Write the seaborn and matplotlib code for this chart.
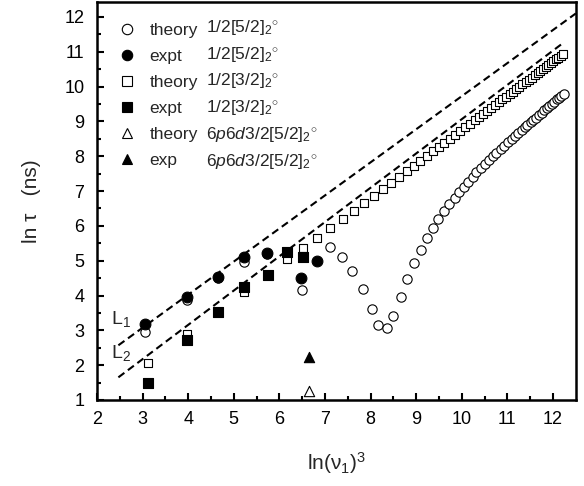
import matplotlib
matplotlib.use("Agg")
import matplotlib.pyplot as plt
import seaborn as sns
import pandas as pd

# theory 1/2[5/2]_2 (open circles)
th52_x = [3.05, 3.97, 4.66, 5.23, 5.72, 6.49, 7.11, 7.37, 7.60, 7.83, 8.02, 8.17, 8.35, 8.50,
          8.66, 8.80, 8.95, 9.10, 9.23, 9.36, 9.48, 9.61, 9.73, 9.84, 9.94, 10.04, 10.14, 10.24,
          10.32, 10.42, 10.51, 10.59, 10.68, 10.76, 10.85, 10.93, 11.01, 11.09, 11.17, 11.24,
          11.31, 11.38, 11.44, 11.51, 11.57, 11.63, 11.69, 11.75, 11.81, 11.87, 11.92, 11.98,
          12.03, 12.08, 12.13, 12.18, 12.23]
th52_y = [2.95, 3.88, 4.50, 4.97, 5.18, 4.17, 5.40, 5.11, 4.69, 4.18, 3.62, 3.14, 3.07, 3.42,
          3.95, 4.48, 4.94, 5.31, 5.66, 5.94, 6.20, 6.42, 6.62, 6.81, 6.97, 7.12, 7.27, 7.41,
          7.54, 7.67, 7.78, 7.90, 8.00, 8.10, 8.21, 8.30, 8.40, 8.49, 8.59, 8.67,
          8.75, 8.83, 8.90, 8.98, 9.05, 9.11, 9.18, 9.25, 9.32, 9.39, 9.45, 9.51,
          9.57, 9.63, 9.68, 9.74, 9.80]

# expt 1/2[5/2]_2 (filled circles)
ex52_x = [3.05, 3.97, 4.66, 5.23, 5.72, 6.48, 6.82]
ex52_y = [3.19, 3.95, 4.52, 5.10, 5.21, 4.50, 4.98]

# theory 1/2[3/2]_2 (open squares)
th32_x = [3.13, 3.98, 4.66, 5.23, 5.74, 6.16, 6.51, 6.83, 7.12, 7.39, 7.63, 7.86, 8.07, 8.27,
          8.45, 8.63, 8.79, 8.95, 9.09, 9.24, 9.37, 9.50, 9.62, 9.74, 9.86, 9.97, 10.07, 10.18,
          10.28, 10.37, 10.46, 10.56, 10.64, 10.73, 10.81, 10.89, 10.97, 11.05, 11.12, 11.19,
          11.26, 11.33, 11.40, 11.47, 11.53, 11.60, 11.66, 11.72, 11.78, 11.84, 11.90, 11.95,
          12.01, 12.06, 12.11, 12.17, 12.22]
th32_y = [2.07, 2.90, 3.52, 4.11, 4.58, 5.04, 5.36, 5.65, 5.93, 6.20, 6.43, 6.66, 6.87, 7.06,
          7.24, 7.41, 7.57, 7.73, 7.86, 8.01, 8.14, 8.27, 8.38, 8.50, 8.62, 8.73, 8.83, 8.93,
          9.03, 9.12, 9.21, 9.31, 9.38, 9.47, 9.55, 9.63, 9.71, 9.79, 9.85, 9.92,
          9.99, 10.06, 10.13, 10.20, 10.26, 10.32, 10.38, 10.44, 10.50, 10.56, 10.62, 10.67,
          10.73, 10.78, 10.82, 10.88, 10.93]

# expt 1/2[3/2]_2 (filled squares)
ex32_x = [3.13, 3.98, 4.66, 5.23, 5.74, 6.16, 6.51]
ex32_y = [1.48, 2.73, 3.54, 4.24, 4.59, 5.24, 5.12]

# 6p6d3/2[5/2]_2 (triangles)
th_tri_x = [6.65]
th_tri_y = [1.25]
ex_tri_x = [6.65]
ex_tri_y = [2.24]

# dashed guide lines L1, L2 (end points)
L1_x = [2.47, 12.5]
L1_y = [2.57, 12.10]
L2_x = [2.47, 12.25]
L2_y = [1.65, 11.28]

legend_kinds = ["theory", "expt", "theory", "expt", "theory", "exp"]
legend_states = [r"1/2[5/2]$_2$$^{\circ}$", r"1/2[5/2]$_2$$^{\circ}$",
                 r"1/2[3/2]$_2$$^{\circ}$", r"1/2[3/2]$_2$$^{\circ}$",
                 r"6$p$6$d$3/2[5/2]$_2$$^{\circ}$", r"6$p$6$d$3/2[5/2]$_2$$^{\circ}$"]

sns.set_theme(style="ticks")
plt.rcParams['font.family'] = ['Liberation Sans', 'DejaVu Sans']
plt.rcParams['mathtext.fontset'] = 'custom'
plt.rcParams['mathtext.rm'] = 'Liberation Sans'
plt.rcParams['mathtext.it'] = 'Liberation Sans:italic'
plt.rcParams['mathtext.bf'] = 'Liberation Sans:bold'

fig = plt.figure(figsize=(5.84, 4.86), dpi=100)
ax = fig.add_axes([0.166, 0.177, 0.820, 0.819])

for lx, ly in [(L1_x, L1_y), (L2_x, L2_y)]:
    sns.lineplot(x=lx, y=ly, ax=ax, color="black", lw=1.5, zorder=1)
    ax.lines[-1].set_dashes([3.6, 2.1])

series = [
    (th52_x, th52_y, "o", "white", 45, 2),
    (ex52_x, ex52_y, "o", "black", 60, 4),
    (th32_x, th32_y, "s", "white", 36, 2),
    (ex32_x, ex32_y, "s", "black", 42, 4),
    (th_tri_x, th_tri_y, "^", "white", 55, 2),
    (ex_tri_x, ex_tri_y, "^", "black", 55, 4),
]
handles = []
for (sx, sy, m, fc, s, z), kind in zip(series, legend_kinds):
    df = pd.DataFrame({"x": sx, "y": sy})
    sns.scatterplot(data=df, x="x", y="y", ax=ax, marker=m, s=s, facecolor=fc,
                    edgecolor="black", linewidth=0.8, zorder=z)
    handles.append(plt.Line2D([], [], ls="none", marker=m, markersize=7.5,
                              markerfacecolor=fc, markeredgecolor="black",
                              markeredgewidth=0.8, label=kind))

leg = ax.legend(handles=handles, loc="upper left", bbox_to_anchor=(0.015, 0.982),
                frameon=False, fontsize=12.5, handlelength=1.0, handletextpad=0.8,
                labelspacing=0.62, borderaxespad=0.4)
row_y = [0.936, 0.869, 0.802, 0.734, 0.667, 0.600]
for ry, st in zip(row_y, legend_states):
    ax.text(0.228, ry, st, transform=ax.transAxes, fontsize=12.5, va="center", ha="left")

ax.text(2.3, 3.32, r"L$_1$", fontsize=14, ha="left", va="center")
ax.text(2.3, 2.36, r"L$_2$", fontsize=14, ha="left", va="center")

ax.set_xlim(2, 12.5)
ax.set_ylim(1, 12.43)
ax.set_xticks(range(2, 13))
ax.set_yticks(range(1, 13))
ax.set_xticks([x + 0.5 for x in range(2, 12)], minor=True)
ax.set_yticks([y + 0.5 for y in range(1, 12)], minor=True)
ax.tick_params(which="both", direction="in", width=1.5, labelsize=13, colors="black")
ax.tick_params(which="major", length=5)
ax.tick_params(which="minor", length=3)
ax.tick_params(axis="x", which="major", pad=8)
ax.tick_params(axis="y", which="major", pad=9)
for sp in ax.spines.values():
    sp.set_linewidth(1.8)
    sp.set_color("black")

ax.set_xlabel(r"ln(ν$_{\rm 1}$)$^3$", fontsize=15, labelpad=16)
ax.set_ylabel("ln τ   (ns)", fontsize=15, labelpad=17)

fig.savefig("out.png", dpi=100)
